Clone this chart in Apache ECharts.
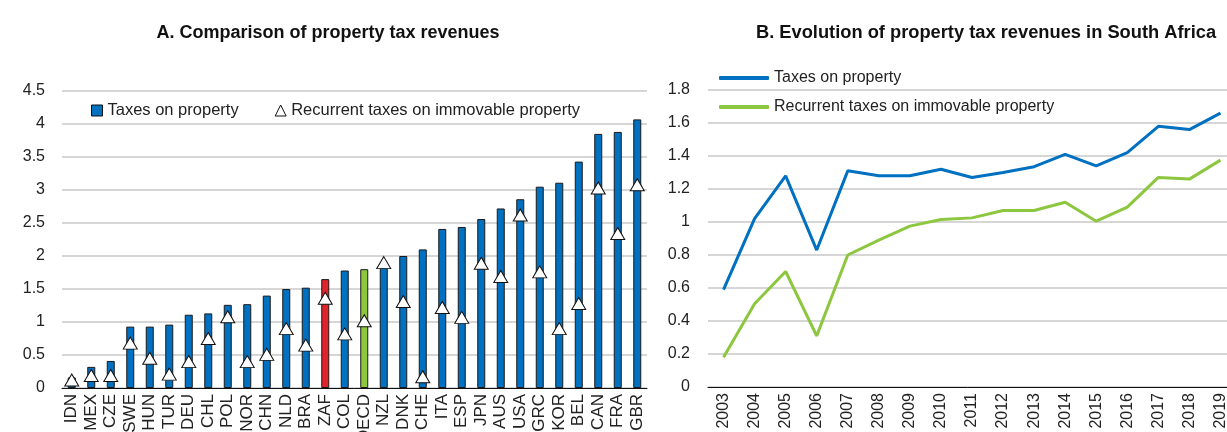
<!DOCTYPE html>
<html>
<head>
<meta charset="utf-8">
<script src="https://cdn.jsdelivr.net/npm/echarts@6/dist/echarts.min.js"></script>
<style>
  html, body { margin: 0; padding: 0; background: #fff; }
  #chart { width: 1227px; height: 432px; }
</style>
</head>
<body>
<div id="chart"></div>
<script>
// panel A: countries, total property taxes and recurrent taxes on immovable property (% of GDP)
var countries = ['IDN', 'MEX', 'CZE', 'SWE', 'HUN', 'TUR', 'DEU', 'CHL', 'POL', 'NOR', 'CHN', 'NLD', 'BRA', 'ZAF', 'COL',
  'OECD', 'NZL', 'DNK', 'CHE', 'ITA', 'ESP', 'JPN', 'AUS', 'USA', 'GRC', 'KOR', 'BEL', 'CAN', 'FRA', 'GBR'];
var taxesProperty = [0.16, 0.32, 0.41, 0.93, 0.93, 0.96, 1.11, 1.13, 1.26, 1.27, 1.40, 1.50, 1.52, 1.65, 1.78,
  1.80, 1.87, 2.00, 2.10, 2.41, 2.44, 2.56, 2.72, 2.86, 3.05, 3.11, 3.43, 3.85, 3.88, 4.07];
var recurrentTaxes = [0.12, 0.19, 0.19, 0.68, 0.45, 0.21, 0.40, 0.75, 1.08, 0.40, 0.51, 0.90, 0.65, 1.36, 0.82,
  1.02, 1.90, 1.31, 0.17, 1.22, 1.07, 1.89, 1.69, 2.62, 1.76, 0.90, 1.28, 3.03, 2.34, 3.08];
var yTicksA = [0, 0.5, 1, 1.5, 2, 2.5, 3, 3.5, 4, 4.5];

// panel B: South Africa over time
var years = ['2003', '2004', '2005', '2006', '2007', '2008', '2009', '2010', '2011', '2012', '2013', '2014', '2015',
  '2016', '2017', '2018', '2019'];
var zafTaxesProperty = [0.59, 1.02, 1.28, 0.83, 1.31, 1.28, 1.28, 1.32, 1.27, 1.30, 1.335, 1.41, 1.34, 1.42, 1.58, 1.56, 1.66];
var zafRecurrent = [0.18, 0.505, 0.70, 0.31, 0.80, 0.89, 0.975, 1.015, 1.025, 1.07, 1.07, 1.12, 1.005, 1.09, 1.27, 1.26, 1.375];
var yTicksB = [0, 0.2, 0.4, 0.6, 0.8, 1, 1.2, 1.4, 1.6, 1.8];

var BLUE = '#0070C0';
var GREEN = '#8DC63F';
var RED = '#E1232A';
var FONT = '"Liberation Sans", Arial, sans-serif';

var barData = taxesProperty.map(function (v, i) {
  var c = BLUE;
  if (countries[i] === 'ZAF') c = RED;
  if (countries[i] === 'OECD') c = GREEN;
  return { value: v, itemStyle: { color: c } };
});

var chart = echarts.init(document.getElementById('chart'));
chart.setOption({
  animation: false,
  textStyle: { fontFamily: FONT },
  title: [
    { text: 'A. Comparison of property tax revenues', left: 323, top: 19, textAlign: 'center',
      textStyle: { fontFamily: FONT, fontSize: 18, fontWeight: 'bold', color: '#111' } },
    { text: 'B. Evolution of property tax revenues in South Africa', left: 981, top: 19, textAlign: 'center',
      textStyle: { fontFamily: FONT, fontSize: 18.3, fontWeight: 'bold', color: '#111' } }
  ],
  legend: [
    { // left panel
      left: 86, top: 97, itemGap: 36, itemWidth: 11, itemHeight: 11,
      textStyle: { fontFamily: FONT, fontSize: 16.5, color: '#222' },
      data: [
        { name: 'Taxes on property', icon: 'rect', itemStyle: { color: BLUE, borderColor: '#111', borderWidth: 1 } },
        { name: 'Recurrent taxes on immovable property', icon: 'triangle',
          itemStyle: { color: '#fff', borderColor: '#111', borderWidth: 1 } }
      ]
    },
    { // right panel
      left: 714, top: 65, orient: 'vertical', itemGap: 13, itemWidth: 50, itemHeight: 4,
      textStyle: { fontFamily: FONT, fontSize: 16, color: '#222' },
      data: [
        { name: 'Taxes on property ', icon: 'roundRect', itemStyle: { color: BLUE } },
        { name: 'Recurrent taxes on immovable property ', icon: 'roundRect', itemStyle: { color: GREEN } }
      ]
    }
  ],
  grid: [
    { left: 62, top: 91, width: 585, height: 297, outerBoundsMode: 'none' },
    { left: 708, top: 90, width: 528, height: 297, outerBoundsMode: 'none' }
  ],
  xAxis: [
    {
      gridIndex: 0, type: 'category', data: countries,
      axisLine: { lineStyle: { color: '#111', width: 1 } },
      axisTick: { length: 5, lineStyle: { color: '#111' } },
      axisLabel: { rotate: 90, margin: 6, interval: 0, fontSize: 17, color: '#222', fontFamily: FONT }
    },
    {
      gridIndex: 1, type: 'category', data: years,
      axisLine: { lineStyle: { color: '#111', width: 1 } },
      axisTick: { length: 6, lineStyle: { color: '#111' } },
      axisLabel: { rotate: 90, margin: 6, interval: 0, fontSize: 16, color: '#222', fontFamily: FONT }
    }
  ],
  yAxis: [
    {
      gridIndex: 0, type: 'value', min: yTicksA[0], max: yTicksA[yTicksA.length - 1], interval: 0.5,
      axisLine: { show: false }, axisTick: { show: false },
      splitLine: { lineStyle: { color: '#c8c8c8', width: 1.5 } },
      axisLabel: { margin: 17, fontSize: 16, color: '#222', fontFamily: FONT }
    },
    {
      gridIndex: 1, type: 'value', min: yTicksB[0], max: yTicksB[yTicksB.length - 1], interval: 0.2,
      axisLine: { show: false }, axisTick: { show: false },
      splitLine: { lineStyle: { color: '#c8c8c8', width: 1.5 } },
      axisLabel: { margin: 18, fontSize: 16, color: '#222', fontFamily: FONT }
    }
  ],
  series: [
    {
      name: 'Taxes on property', type: 'bar', xAxisIndex: 0, yAxisIndex: 0,
      barWidth: 8, data: barData,
      itemStyle: { borderColor: '#1a1a1a', borderWidth: 1 }
    },
    {
      name: 'Recurrent taxes on immovable property', type: 'scatter', xAxisIndex: 0, yAxisIndex: 0,
      symbol: 'triangle', symbolSize: [14, 12], data: recurrentTaxes,
      itemStyle: { color: '#fff', borderColor: '#111', borderWidth: 1, opacity: 1 }
    },
    {
      name: 'Taxes on property ', type: 'line', xAxisIndex: 1, yAxisIndex: 1,
      data: zafTaxesProperty, showSymbol: false, symbol: 'none',
      lineStyle: { color: BLUE, width: 3 }, itemStyle: { color: BLUE }
    },
    {
      name: 'Recurrent taxes on immovable property ', type: 'line', xAxisIndex: 1, yAxisIndex: 1,
      data: zafRecurrent, showSymbol: false, symbol: 'none',
      lineStyle: { color: GREEN, width: 3 }, itemStyle: { color: GREEN }
    }
  ]
});
</script>
</body>
</html>
